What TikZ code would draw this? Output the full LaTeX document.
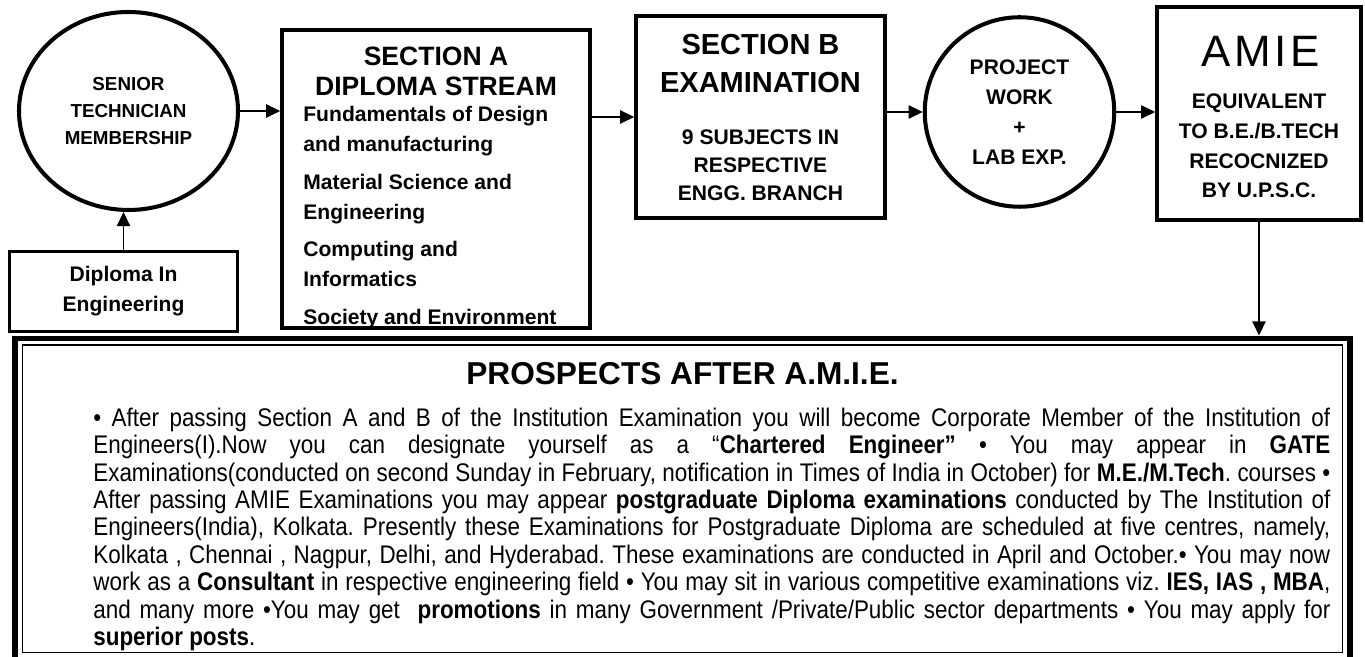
\documentclass[tikz,border=0pt]{standalone}
\usepackage{fontspec}
\setmainfont{Liberation Sans}
\newfontfamily\narrowfont[FakeStretch=0.88]{Liberation Sans}
\usetikzlibrary{shapes.geometric,arrows.meta}
\newlength\bodyw
\setlength\bodyw{24.74cm}

\begin{document}
\begin{tikzpicture}[
  box/.style={draw,line width=2pt,inner sep=0pt},
  ring/.style={draw,line width=2.3pt,inner sep=0pt,align=center},
  arr/.style={-{Triangle[length=8pt,width=7.5pt]},line width=0.9pt},
  bf/.style={font=\bfseries\fontsize{12}{17}\selectfont,align=center}
]
\useasboundingbox (0,0) rectangle (27.3,13.14);

% Top row: membership, sections, project, degree
\node[ring,ellipse,minimum width=4.38cm,minimum height=3.96cm,font=\bfseries\fontsize{10.7}{15.6}\selectfont] (stm) at (2.57,10.92) {SENIOR\\TECHNICIAN\\MEMBERSHIP};
\node[box,bf,minimum width=4.56cm,minimum height=1.6cm] (dip) at (2.47,7.31) {Diploma In\\Engineering};

\node[box,minimum width=6.16cm,minimum height=5.96cm] (secA) at (8.72,9.56) {};
\node[font=\bfseries\fontsize{15.1}{17}\selectfont,align=center] (secAhead) at (8.72,11.72) {SECTION A\\DIPLOMA STREAM};
\node[bf,align=left,anchor=north west,inner sep=0pt] (secAlist) at (6.06,11.02) {Fundamentals of Design\\and manufacturing\\[4.5pt]Material Science and\\Engineering\\[4.5pt]Computing and\\Informatics\\[4.5pt]Society and Environment};

\node[box,minimum width=4.98cm,minimum height=4.04cm] (secB) at (15.21,10.8) {};
\node[font=\bfseries\fontsize{16.5}{21.6}\selectfont,align=center] (secBhead) at (15.21,11.86) {SECTION B\\EXAMINATION};
\node[bf,font=\bfseries\fontsize{12}{16}\selectfont] (secBsub) at (15.21,9.84) {9 SUBJECTS IN\\RESPECTIVE\\ENGG. BRANCH};

\node[ring,circle,minimum size=3.79cm,font=\bfseries\fontsize{12}{17}\selectfont] (proj) at (20.39,10.9) {PROJECT\\WORK\\+\\LAB EXP.};

\node[box,minimum width=4.08cm,minimum height=4.26cm] (amie) at (25.18,10.87) {};
\node[font=\fontsize{25}{29}\selectfont] (amiehead) at (25.21,12.12) {\addfontfeature{LetterSpace=8}AMIE};
\node[bf,font=\bfseries\fontsize{12}{16.8}\selectfont] (amiesub) at (25.18,10.22) {EQUIVALENT\\TO B.E./B.TECH\\RECOCNIZED\\BY U.P.S.C.};

% Prospects frame
\node[draw,line width=3.4pt,minimum width=26.7cm,minimum height=6.45cm,inner sep=0pt] (prosp) at (13.65,3.145) {};
\draw[line width=1.1pt] ([shift={(0.21,-0.19)}]prosp.north west) rectangle ([shift={(-0.21,0.23)}]prosp.south east);
\node[font=\bfseries\fontsize{18}{21}\selectfont] (prosphead) at (13.65,5.66) {PROSPECTS AFTER A.M.I.E.};
\node[anchor=north west,inner sep=0pt,align=left,font=\narrowfont\fontsize{14.5}{15.6}\selectfont\frenchspacing] (prospbody) at (1.86,4.99) {%
\makebox[\bodyw][s]{• After passing Section A and B of the Institution Examination you will become Corporate Member of the Institution of}\\
\makebox[\bodyw][s]{Engineers(I).Now you can designate yourself as a “\textbf{Chartered Engineer”} • You may appear in \textbf{GATE}}\\
\makebox[\bodyw][s]{Examinations(conducted on second Sunday in February, notification in Times of India in October) for \textbf{M.E./M.Tech}. courses •}\\
\makebox[\bodyw][s]{After passing AMIE Examinations you may appear \textbf{postgraduate Diploma examinations} conducted by The Institution of}\\
\makebox[\bodyw][s]{Engineers(India), Kolkata. Presently these Examinations for Postgraduate Diploma are scheduled at five centres, namely,}\\
\makebox[\bodyw][s]{Kolkata , Chennai , Nagpur, Delhi, and Hyderabad. These examinations are conducted in April and October.• You may now}\\
\makebox[\bodyw][s]{work as a \textbf{Consultant} in respective engineering field • You may sit in various competitive examinations viz. \textbf{IES, IAS , MBA},}\\
\makebox[\bodyw][s]{and many more •You may get\ \ \textbf{promotions} in many Government /Private/Public sector departments • You may apply for}\\
\textbf{superior posts}.};

% Connectors
\draw[arr] (dip.north) -- (dip.north |- stm.south);
\draw[arr] (stm.east) -- (stm.east -| secA.west);
\draw[arr] (secA.east |- secB.west) -- (secB.west);
\draw[arr] (secB.east |- proj.west) -- (proj.west);
\draw[arr] (proj.east) -- (proj.east -| amie.west);
\draw[arr] (amie.south) -- (amie.south |- prosp.north);
\end{tikzpicture}
\end{document}
